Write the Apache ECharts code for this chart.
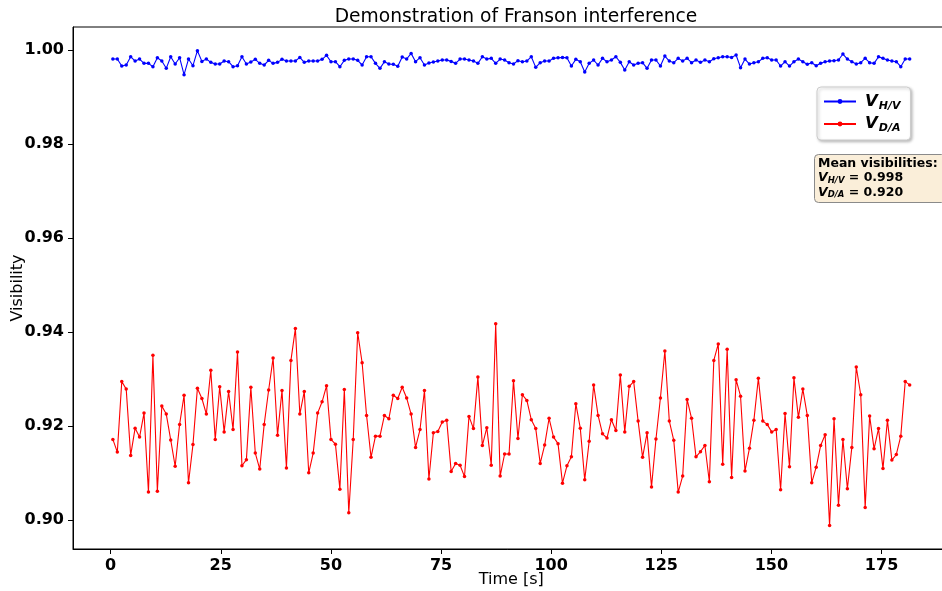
<!DOCTYPE html>
<html>
<head>
<meta charset="utf-8">
<script src="https://cdn.jsdelivr.net/npm/echarts@6/dist/echarts.min.js"></script>
<style>
  html, body { margin: 0; padding: 0; background: #fff; }
  #chart { width: 942px; height: 591px; }
</style>
</head>
<body>
<div id="chart"></div>
<script>
// Acquisition times of each visibility sample [s]
const times = [
  0.51, 1.52, 2.53, 3.54, 4.55, 5.56, 6.57, 7.58, 8.59, 9.60,
  10.61, 11.62, 12.63, 13.64, 14.65, 15.66, 16.67, 17.68, 18.69, 19.70,
  20.72, 21.73, 22.74, 23.75, 24.76, 25.77, 26.78, 27.79, 28.80, 29.81,
  30.82, 31.83, 32.84, 33.85, 34.86, 35.87, 36.88, 37.89, 38.90, 39.91,
  40.93, 41.94, 42.95, 43.96, 44.97, 45.98, 46.99, 48.00, 49.01, 50.02,
  51.03, 52.04, 53.05, 54.06, 55.07, 56.08, 57.09, 58.10, 59.11, 60.12,
  61.14, 62.15, 63.16, 64.17, 65.18, 66.19, 67.20, 68.21, 69.22, 70.23,
  71.24, 72.25, 73.26, 74.27, 75.28, 76.29, 77.30, 78.31, 79.32, 80.33,
  81.35, 82.36, 83.37, 84.38, 85.39, 86.40, 87.41, 88.42, 89.43, 90.44,
  91.45, 92.46, 93.47, 94.48, 95.49, 96.50, 97.51, 98.52, 99.53, 100.54,
  101.56, 102.57, 103.58, 104.59, 105.60, 106.61, 107.62, 108.63, 109.64, 110.65,
  111.66, 112.67, 113.68, 114.69, 115.70, 116.71, 117.72, 118.73, 119.74, 120.75,
  121.77, 122.78, 123.79, 124.80, 125.81, 126.82, 127.83, 128.84, 129.85, 130.86,
  131.87, 132.88, 133.89, 134.90, 135.91, 136.92, 137.93, 138.94, 139.95, 140.96,
  141.98, 142.99, 144.00, 145.01, 146.02, 147.03, 148.04, 149.05, 150.06, 151.07,
  152.08, 153.09, 154.10, 155.11, 156.12, 157.13, 158.14, 159.15, 160.16, 161.17,
  162.19, 163.20, 164.21, 165.22, 166.23, 167.24, 168.25, 169.26, 170.27, 171.28,
  172.29, 173.30, 174.31, 175.32, 176.33, 177.34, 178.35, 179.36, 180.37, 181.38
];

// Visibility in the H/V basis
const visHV = [
  0.99809, 0.99809, 0.99660, 0.99682, 0.99858, 0.99766, 0.99809, 0.99717, 0.99717, 0.99646,
  0.99837, 0.99766, 0.99611, 0.99858, 0.99703, 0.99837, 0.99476, 0.99809, 0.99667, 0.99986,
  0.99759, 0.99809, 0.99738, 0.99703, 0.99703, 0.99766, 0.99752, 0.99646, 0.99667, 0.99858,
  0.99703, 0.99745, 0.99802, 0.99717, 0.99682, 0.99781, 0.99717, 0.99738, 0.99802, 0.99766,
  0.99766, 0.99766, 0.99844, 0.99738, 0.99766, 0.99766, 0.99766, 0.99802, 0.99887, 0.99752,
  0.99752, 0.99646, 0.99781, 0.99809, 0.99809, 0.99781, 0.99682, 0.99858, 0.99858, 0.99717,
  0.99611, 0.99752, 0.99703, 0.99696, 0.99653, 0.99851, 0.99809, 0.99929, 0.99752, 0.99837,
  0.99682, 0.99724, 0.99745, 0.99766, 0.99788, 0.99788, 0.99759, 0.99717, 0.99809, 0.99809,
  0.99788, 0.99766, 0.99717, 0.99858, 0.99809, 0.99823, 0.99717, 0.99809, 0.99788, 0.99731,
  0.99703, 0.99774, 0.99752, 0.99766, 0.99858, 0.99632, 0.99731, 0.99766, 0.99766, 0.99823,
  0.99837, 0.99844, 0.99837, 0.99660, 0.99802, 0.99752, 0.99533, 0.99717, 0.99788, 0.99682,
  0.99823, 0.99752, 0.99788, 0.99858, 0.99738, 0.99575, 0.99752, 0.99682, 0.99717, 0.99731,
  0.99611, 0.99788, 0.99788, 0.99660, 0.99873, 0.99766, 0.99731, 0.99823, 0.99766, 0.99823,
  0.99731, 0.99788, 0.99738, 0.99788, 0.99752, 0.99816, 0.99837, 0.99858, 0.99858, 0.99844,
  0.99894, 0.99625, 0.99809, 0.99703, 0.99731, 0.99752, 0.99823, 0.99837, 0.99788, 0.99788,
  0.99660, 0.99752, 0.99660, 0.99752, 0.99809, 0.99752, 0.99696, 0.99731, 0.99667, 0.99717,
  0.99752, 0.99766, 0.99774, 0.99788, 0.99915, 0.99809, 0.99752, 0.99703, 0.99731, 0.99823,
  0.99731, 0.99717, 0.99858, 0.99823, 0.99788, 0.99766, 0.99752, 0.99646, 0.99809, 0.99809
];

// Visibility in the D/A basis
const visDA = [
  0.9172, 0.9145, 0.9295, 0.9279, 0.9138, 0.9196, 0.9177, 0.9228, 0.9060, 0.9351,
  0.9062, 0.9243, 0.9226, 0.9171, 0.9115, 0.9204, 0.9266, 0.9080, 0.9161, 0.9281,
  0.9259, 0.9226, 0.9319, 0.9172, 0.9284, 0.9188, 0.9274, 0.9193, 0.9358, 0.9116,
  0.9129, 0.9283, 0.9143, 0.9109, 0.9204, 0.9277, 0.9345, 0.9181, 0.9276, 0.9111,
  0.9340, 0.9408, 0.9226, 0.9274, 0.9101, 0.9143, 0.9228, 0.9252, 0.9286, 0.9172,
  0.9162, 0.9066, 0.9278, 0.9016, 0.9172, 0.9399, 0.9335, 0.9223, 0.9134, 0.9179,
  0.9179, 0.9223, 0.9216, 0.9266, 0.9259, 0.9283, 0.9260, 0.9226, 0.9155, 0.9193,
  0.9276, 0.9088, 0.9186, 0.9189, 0.9209, 0.9213, 0.9104, 0.9121, 0.9117, 0.9093,
  0.9221, 0.9195, 0.9305, 0.9159, 0.9197, 0.9117, 0.9418, 0.9094, 0.9141, 0.9141,
  0.9297, 0.9174, 0.9267, 0.9255, 0.9214, 0.9195, 0.9121, 0.9160, 0.9217, 0.9177,
  0.9163, 0.9079, 0.9116, 0.9135, 0.9248, 0.9196, 0.9086, 0.9168, 0.9288, 0.9223,
  0.9184, 0.9175, 0.9214, 0.9191, 0.9309, 0.9188, 0.9285, 0.9295, 0.9211, 0.9134,
  0.9186, 0.9071, 0.9173, 0.9260, 0.9360, 0.9211, 0.9170, 0.9060, 0.9094, 0.9257,
  0.9217, 0.9135, 0.9146, 0.9159, 0.9082, 0.9340, 0.9375, 0.9119, 0.9364, 0.9091,
  0.9299, 0.9264, 0.9105, 0.9153, 0.9213, 0.9302, 0.9211, 0.9204, 0.9188, 0.9193,
  0.9065, 0.9227, 0.9114, 0.9303, 0.9219, 0.9279, 0.9223, 0.9080, 0.9113, 0.9159,
  0.9182, 0.8989, 0.9216, 0.9032, 0.9172, 0.9067, 0.9155, 0.9326, 0.9267, 0.9027,
  0.9222, 0.9152, 0.9195, 0.9110, 0.9213, 0.9128, 0.9140, 0.9179, 0.9295, 0.9288
];

// Tick positions
const xTicks = [0, 25, 50, 75, 100, 125, 150, 175];
const yTicks = [0.90, 0.92, 0.94, 0.96, 0.98, 1.00];

const seriesNames = ['H/V', 'D/A'];

const mean = arr => arr.reduce((s, v) => s + v, 0) / arr.length;
const meanHV = mean(visHV).toFixed(3);
const meanDA = mean(visDA).toFixed(3);

const pairs = vals => vals.map((v, i) => [times[i], v]);

const FONT = 'DejaVu Sans';

const chart = echarts.init(document.getElementById('chart'), null, { renderer: 'canvas' });

const subRich = {
  v: { fontFamily: FONT, fontWeight: 'bold', fontStyle: 'italic', fontSize: 16.5, color: '#000',
       verticalAlign: 'middle', lineHeight: 20 },
  s: { fontFamily: FONT, fontWeight: 'bold', fontStyle: 'italic', fontSize: 11, color: '#000',
       verticalAlign: 'bottom', lineHeight: 20, padding: [0, 0, 0, 1] }
};

const axisCommon = {
  nameMoveOverlap: false,
  axisLine: { show: true, onZero: false, lineStyle: { color: '#000', width: 1 } },
  splitLine: { show: false }
};

chart.setOption({
  animation: false,
  backgroundColor: '#ffffff',
  title: [
    {
      text: 'Demonstration of Franson interference',
      left: 511,
      textAlign: 'center',
      top: 3,
      textStyle: { fontFamily: FONT, fontWeight: 'normal', fontSize: 18.7, color: '#000' }
    },
    {
      // Mean-visibility summary box
      text: '{b|Mean visibilities:}\n{v|V}{s|H/V}{b| = ' + meanHV + '}\n{v|V}{s|D/A}{b| = ' + meanDA + '}',
      left: 814,
      top: 153,
      padding: [3, 8, 3, 4],
      backgroundColor: '#faeed9',
      borderColor: '#8a8a8a',
      borderWidth: 1,
      borderRadius: 4,
      textStyle: {
        rich: {
          b: { fontFamily: FONT, fontWeight: 'bold', fontSize: 12.5, color: '#000', lineHeight: 14.5 },
          v: { fontFamily: FONT, fontWeight: 'bold', fontStyle: 'italic', fontSize: 12.5, color: '#000', lineHeight: 14.5 },
          s: { fontFamily: FONT, fontWeight: 'bold', fontStyle: 'italic', fontSize: 8.5, color: '#000',
               lineHeight: 14.5, verticalAlign: 'bottom' }
        }
      }
    }
  ],
  legend: {
    orient: 'vertical',
    left: 817,
    top: 87,
    padding: [6, 10, 6, 6],
    itemGap: 4,
    itemWidth: 32,
    itemHeight: 6,
    backgroundColor: '#ffffff',
    borderColor: '#cccccc',
    borderWidth: 1,
    borderRadius: 4,
    shadowColor: 'rgba(0,0,0,0.25)',
    shadowBlur: 3,
    shadowOffsetX: 1.5,
    shadowOffsetY: 1.5,
    data: seriesNames,
    formatter: name => '{v|V}{s|' + name + '}',
    textStyle: { rich: subRich, padding: [0, 0, 0, 4] }
  },
  grid: {
    left: 73,
    top: 27,
    right: -7.5,
    bottom: 42,
    outerBoundsMode: 'none',
    containLabel: false,
    show: true,
    borderColor: '#000',
    borderWidth: 1,
    backgroundColor: 'transparent'
  },
  xAxis: Object.assign({}, axisCommon, {
    type: 'value',
    min: -8.54,
    max: 190.42,
    name: 'Time [s]',
    nameLocation: 'middle',
    nameGap: 23,
    nameTextStyle: { fontFamily: FONT, fontSize: 16, color: '#000' },
    axisTick: { show: true, inside: false, length: 5, customValues: xTicks, lineStyle: { color: '#000' } },
    axisLabel: {
      customValues: xTicks,
      margin: 9,
      fontFamily: FONT,
      fontWeight: 'bold',
      fontSize: 16,
      color: '#000',
      formatter: v => String(Math.round(v))
    }
  }),
  yAxis: Object.assign({}, axisCommon, {
    type: 'value',
    min: 0.8939,
    max: 1.0049,
    name: 'Visibility',
    nameLocation: 'middle',
    nameGap: 47,
    nameTextStyle: { fontFamily: FONT, fontSize: 16, color: '#000' },
    axisTick: { show: true, inside: false, length: 5, customValues: yTicks, lineStyle: { color: '#000' } },
    axisLabel: {
      customValues: yTicks,
      margin: 9,
      fontFamily: FONT,
      fontWeight: 'bold',
      fontSize: 16,
      color: '#000',
      formatter: v => v.toFixed(2)
    }
  }),
  series: [
    {
      name: seriesNames[0],
      type: 'line',
      data: pairs(visHV),
      symbol: 'circle',
      symbolSize: 3.5,
      showSymbol: true,
      lineStyle: { color: '#0000ff', width: 1.1 },
      itemStyle: { color: '#0000ff' },
      emphasis: { disabled: true }
    },
    {
      name: seriesNames[1],
      type: 'line',
      data: pairs(visDA),
      symbol: 'circle',
      symbolSize: 3.5,
      showSymbol: true,
      lineStyle: { color: '#ff0000', width: 1.1 },
      itemStyle: { color: '#ff0000' },
      emphasis: { disabled: true }
    }
  ]
});
</script>
</body>
</html>
